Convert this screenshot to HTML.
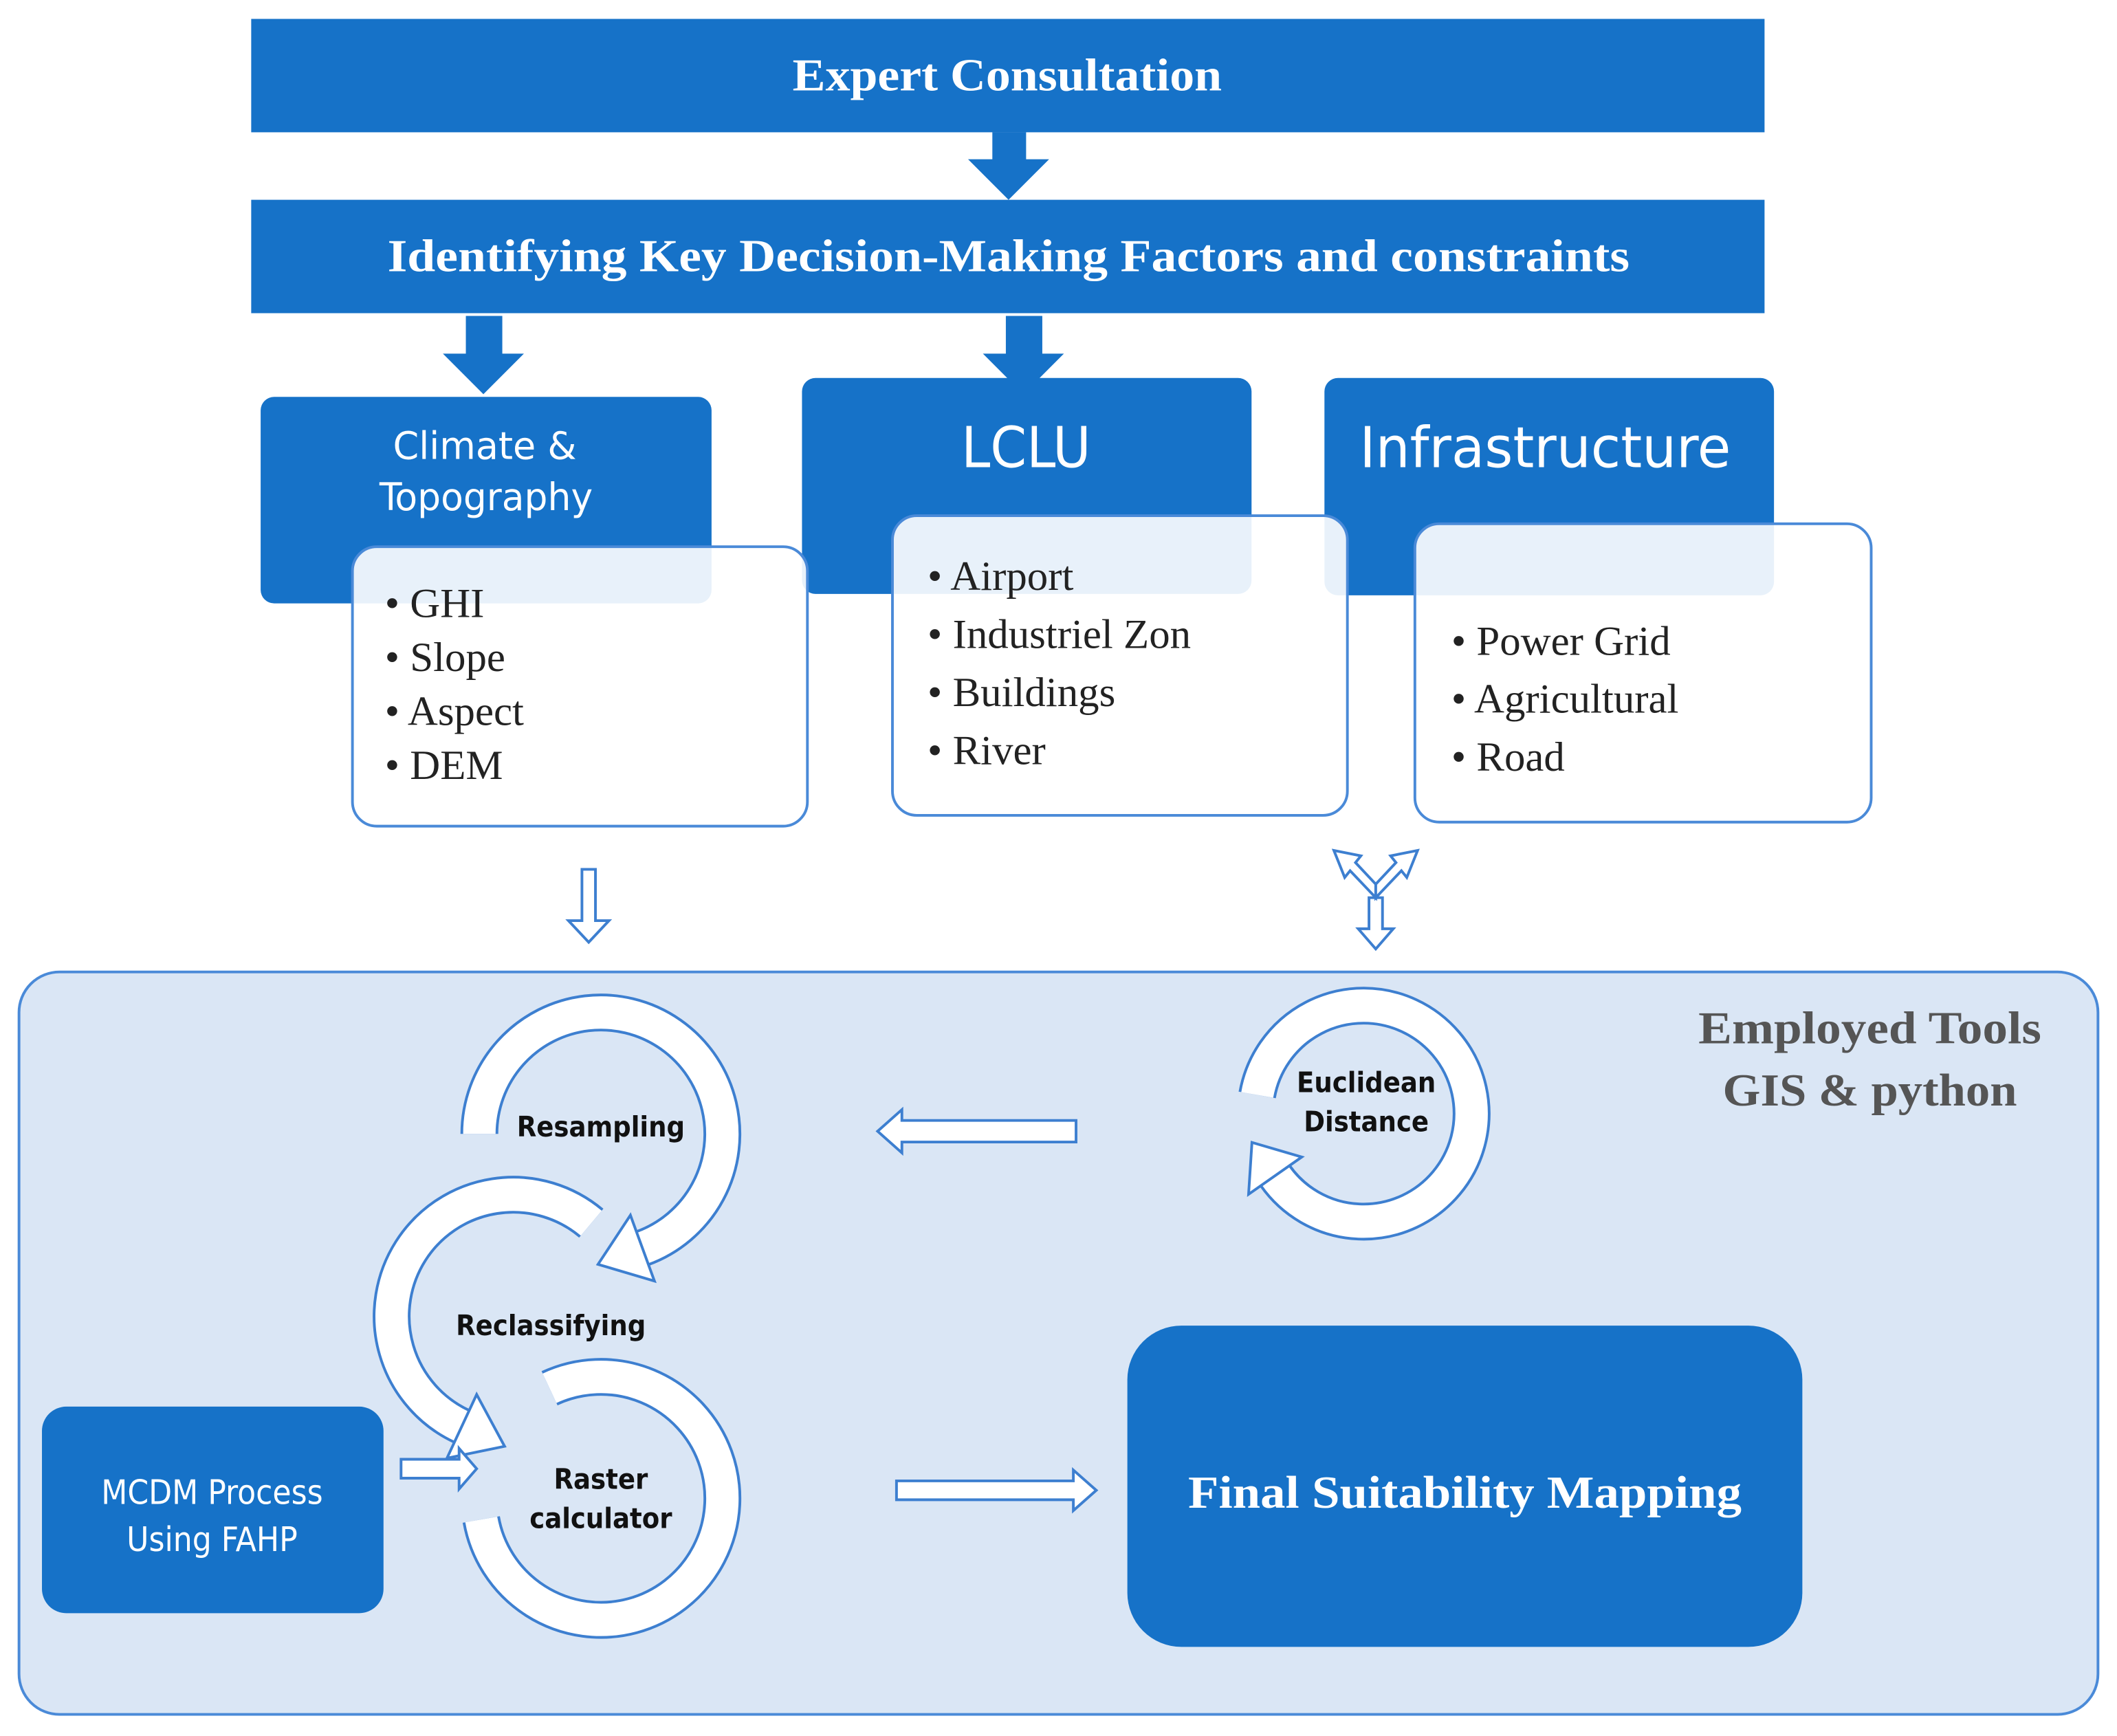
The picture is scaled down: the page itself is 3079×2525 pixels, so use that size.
<!DOCTYPE html>
<html><head><meta charset="utf-8"><style>
html,body{margin:0;padding:0;background:#fff;}
svg{display:block;}
.serif{font-family:"Liberation Serif",serif;}
.sans{font-family:"DejaVu Sans Condensed","Liberation Sans",sans-serif;}
</style></head><body>
<svg width="3079" height="2525" viewBox="0 0 1568 1286" xmlns="http://www.w3.org/2000/svg">
<rect width="1568" height="1286" fill="#fff"/>
<rect x="186" y="14" width="1121" height="84" fill="#1672c8"/>
<text x="587" y="67" textLength="318" lengthAdjust="spacingAndGlyphs" class="serif" font-weight="bold" font-size="34" fill="#fff">Expert Consultation</text>
<polygon points="735,98 760,98 760,118 777,118 747,148 717,118 735,118" fill="#1672c8"/>
<rect x="186" y="148" width="1121" height="84" fill="#1672c8"/>
<text x="287" y="201" textLength="920" lengthAdjust="spacingAndGlyphs" class="serif" font-weight="bold" font-size="34" fill="#fff">Identifying Key Decision-Making Factors and constraints</text>
<polygon points="345,234 372,234 372,262 388,262 358,292 328,262 345,262" fill="#1672c8"/>
<polygon points="745,234 772,234 772,262 788,262 758,292 728,262 745,262" fill="#1672c8"/>
<rect x="193" y="294" width="334" height="153" rx="10" fill="#1672c8"/>
<text x="291" y="340" textLength="136" lengthAdjust="spacingAndGlyphs" class="sans" font-size="28" fill="#fff">Climate &amp;</text>
<text x="281" y="378" textLength="158" lengthAdjust="spacingAndGlyphs" class="sans" font-size="28" fill="#fff">Topography</text>
<rect x="594" y="280" width="333" height="160" rx="10" fill="#1672c8"/>
<text x="712" y="346" textLength="96" lengthAdjust="spacingAndGlyphs" class="sans" font-size="42" fill="#fff">LCLU</text>
<rect x="981" y="280" width="333" height="161" rx="10" fill="#1672c8"/>
<text x="1007" y="346" textLength="275" lengthAdjust="spacingAndGlyphs" class="sans" font-size="42" fill="#fff">Infrastructure</text>
<rect x="261" y="405" width="337" height="207" rx="18" fill="#fff" fill-opacity="0.9" stroke="#4a8ad8" stroke-width="2"/>
<rect x="661" y="382" width="337" height="222" rx="18" fill="#fff" fill-opacity="0.9" stroke="#4a8ad8" stroke-width="2"/>
<rect x="1048" y="388" width="338" height="221" rx="18" fill="#fff" fill-opacity="0.9" stroke="#4a8ad8" stroke-width="2"/>
<g class="serif" font-size="31" fill="#222">
<text x="285" y="457">• GHI</text>
<text x="285" y="497">• Slope</text>
<text x="285" y="537">• Aspect</text>
<text x="285" y="577">• DEM</text>
<text x="687" y="437">• Airport</text>
<text x="687" y="480">• Industriel Zon</text>
<text x="687" y="523">• Buildings</text>
<text x="687" y="566">• River</text>
<text x="1075" y="485">• Power Grid</text>
<text x="1075" y="528">• Agricultural</text>
<text x="1075" y="571">• Road</text>
</g>
<polygon points="431,644 441,644 441,682 451,682 436,698 421,682 431,682" fill="#fff" stroke="#3d7fd0" stroke-width="2"/>
<g fill="#fff" stroke="#3d7fd0" stroke-width="2">
<polygon points="1014,665 1024,665 1024,688 1032,688 1019,703 1006,688 1014,688"/>
<polygon points="1019,665 1000,645 996,650 988,630 1008,634 1004,639 1019,655"/>
<polygon points="1019,665 1038,645 1042,650 1050,630 1030,634 1034,639 1019,655"/>
</g>
<rect x="14" y="720" width="1540" height="550" rx="30" fill="#dae6f5" stroke="#4a8ad8" stroke-width="2"/>
<text x="1258" y="773" textLength="254" lengthAdjust="spacingAndGlyphs" class="serif" font-weight="bold" font-size="34" fill="#555">Employed Tools</text>
<text x="1276" y="819" textLength="218" lengthAdjust="spacingAndGlyphs" class="serif" font-weight="bold" font-size="34" fill="#555">GIS &amp; python</text>
<g fill="none" stroke-linecap="butt">
<path d="M355 840 A90 90 0 1 1 475.8 924.6" stroke="#3d7fd0" stroke-width="28"/>
<path d="M355 840 A90 90 0 1 1 475.8 924.6" stroke="#fff" stroke-width="24"/>
<path d="M437.9 906.1 A90 90 0 1 0 342 1056.6" stroke="#3d7fd0" stroke-width="28"/>
<path d="M437.9 906.1 A90 90 0 1 0 342 1056.6" stroke="#fff" stroke-width="24"/>
<path d="M407 1028.4 A90 90 0 1 1 356.4 1125.6" stroke="#3d7fd0" stroke-width="28"/>
<path d="M407 1028.4 A90 90 0 1 1 356.4 1125.6" stroke="#fff" stroke-width="24"/>
<path d="M931.2 811.1 A80 80 0 1 1 944.5 870.9" stroke="#3d7fd0" stroke-width="28"/>
<path d="M931.2 811.1 A80 80 0 1 1 944.5 870.9" stroke="#fff" stroke-width="24"/>
</g>
<g fill="#fff" stroke="#3d7fd0" stroke-width="2">
<polygon points="484.7,949 466.9,900.2 442.9,936.6"/>
<polygon points="331,1080.2 353,1033 373.7,1071.4"/>
<polygon points="964.2,857.1 924.8,884.7 927.3,846.3"/>
</g>
<g class="sans" font-weight="bold" font-size="21" fill="#111" text-anchor="middle">
<text x="445" y="842">Resampling</text>
<text x="408" y="989">Reclassifying</text>
<text x="445" y="1103">Raster</text>
<text x="445" y="1132">calculator</text>
<text x="1012" y="809">Euclidean</text>
<text x="1012" y="838">Distance</text>
</g>
<g fill="#fff" stroke="#3d7fd0" stroke-width="2">
<polygon points="797,830 797,846 668,846 668,854 650,838 668,822 668,830"/>
<polygon points="297,1081 297,1095 340,1095 340,1103 353,1088 340,1073 340,1081"/>
<polygon points="664,1097 664,1111 795,1111 795,1119 812,1104 795,1089 795,1097"/>
</g>
<rect x="31" y="1042" width="253" height="153" rx="18" fill="#1672c8"/>
<text x="157" y="1114" text-anchor="middle" class="sans" font-size="25" fill="#fff">MCDM Process</text>
<text x="157" y="1149" text-anchor="middle" class="sans" font-size="25" fill="#fff">Using FAHP</text>
<rect x="835" y="982" width="500" height="238" rx="40" fill="#1672c8"/>
<text x="880" y="1117" textLength="410" lengthAdjust="spacingAndGlyphs" class="serif" font-weight="bold" font-size="34" fill="#fff">Final Suitability Mapping</text>
</svg>
</body></html>
